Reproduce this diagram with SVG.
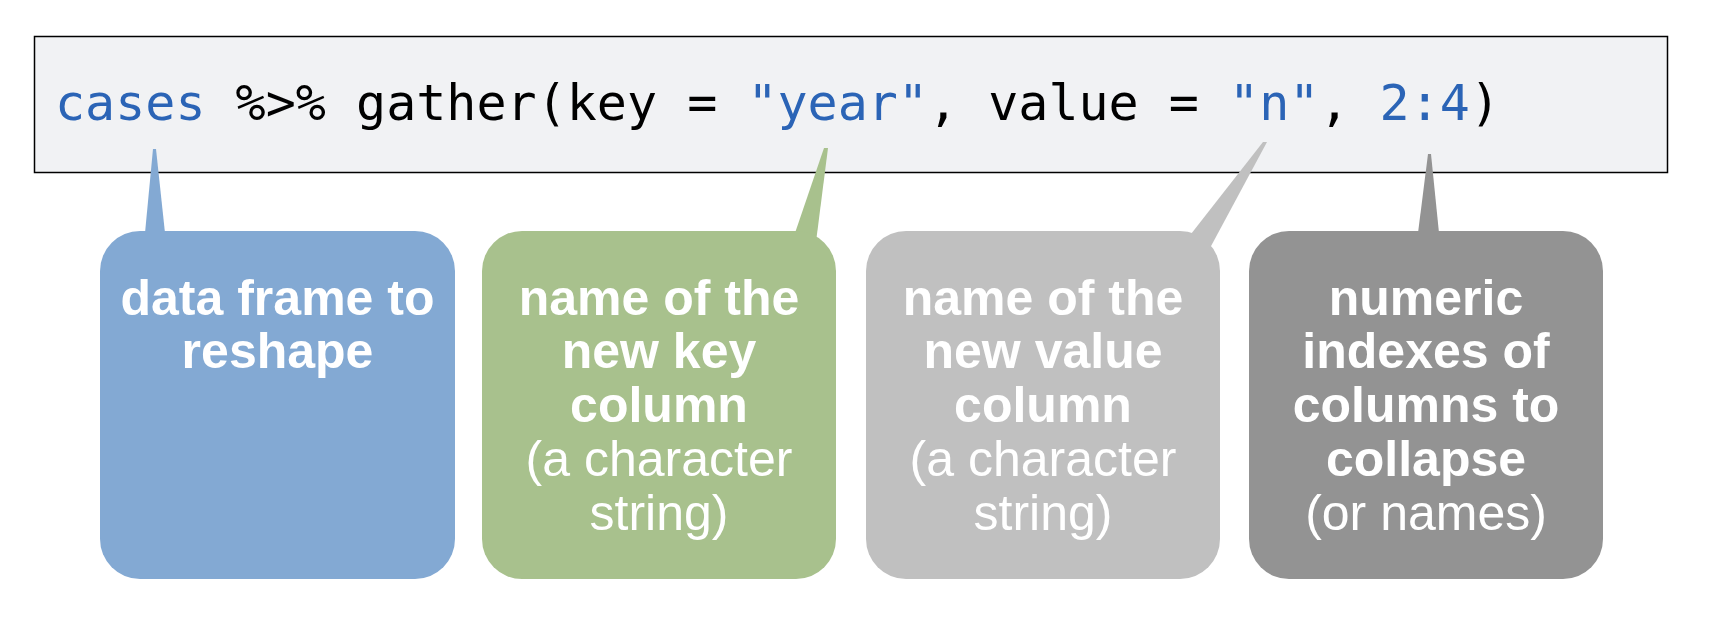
<svg xmlns="http://www.w3.org/2000/svg" width="1736" height="626" viewBox="0 0 1736 626">
<style>
.code{font-family:"DejaVu Sans Mono","Liberation Mono",monospace;font-size:50px;fill:#000;white-space:pre}
.hl{fill:#2b64b6}
.lbl{font-family:"Liberation Sans",Arial,Helvetica,sans-serif;font-size:50px;fill:#fff;text-anchor:middle}
.b{font-weight:bold}
.blue{fill:#83a9d3}
.green{fill:#a8c18d}
.lgray{fill:#c0c0c0}
.dgray{fill:#939393}
</style>
<rect width="1736" height="626" fill="#fff"/>
<g id="code">
<rect x="34.5" y="36.5" width="1633" height="136" fill="#f1f2f4" stroke="#000" stroke-width="1.5"/>
<text class="code" x="55" y="120" xml:space="preserve"><tspan class="hl">cases</tspan> %&gt;% gather(key = <tspan class="hl">"year"</tspan>, value = <tspan class="hl">"n"</tspan>, <tspan class="hl">2:4</tspan>)</text>
</g>
<g id="connectors">
<polygon class="blue" points="153,149 156,149 165,233 145,233"/>
<polygon class="green" points="824,148 828,148 816,242 795,233"/>
<polygon class="lgray" points="1263,142 1267,142 1210,248 1191,234"/>
<polygon class="dgray" points="1428,154 1431,154 1439,233 1418,233"/>
</g>
<g id="node-data">
<rect class="blue" x="100" y="231" width="355" height="348" rx="40"/>
<text class="lbl b" x="277.5" y="315">data frame to</text>
<text class="lbl b" x="277.5" y="368">reshape</text>
</g>
<g id="node-key">
<rect class="green" x="482" y="231" width="354" height="348" rx="40"/>
<text class="lbl b" x="659" y="315">name of the</text>
<text class="lbl b" x="659" y="368">new key</text>
<text class="lbl b" x="659" y="422">column</text>
<text class="lbl" x="659" y="476">(a character</text>
<text class="lbl" x="659" y="530">string)</text>
</g>
<g id="node-value">
<rect class="lgray" x="866" y="231" width="354" height="348" rx="40"/>
<text class="lbl b" x="1043" y="315">name of the</text>
<text class="lbl b" x="1043" y="368">new value</text>
<text class="lbl b" x="1043" y="422">column</text>
<text class="lbl" x="1043" y="476">(a character</text>
<text class="lbl" x="1043" y="530">string)</text>
</g>
<g id="node-cols">
<rect class="dgray" x="1249" y="231" width="354" height="348" rx="40"/>
<text class="lbl b" x="1426" y="315">numeric</text>
<text class="lbl b" x="1426" y="368">indexes of</text>
<text class="lbl b" x="1426" y="422">columns to</text>
<text class="lbl b" x="1426" y="476">collapse</text>
<text class="lbl" x="1426" y="530">(or names)</text>
</g>
</svg>
